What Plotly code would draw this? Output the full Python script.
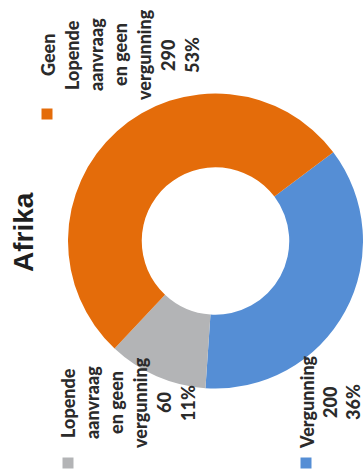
import plotly.graph_objects as go

# Data
categories = ["Vergunning", "Lopende aanvraag en geen vergunning", "Geen Lopende aanvraag en geen vergunning"]
values = [200, 60, 290]
colors = ["#558ED5", "#B3B4B6", "#E46C0A"]
# how each category name is broken over lines in its data label
wrapped_names = [
    ["Vergunning"],
    ["Lopende", "aanvraag", "en geen", "vergunning"],
    ["Geen", "Lopende", "aanvraag", "en geen", "vergunning"],
]
title_text = "Afrika"

W, H = 363, 472
total = sum(values)


def px(x):
    return x / W


def py(y):
    return 1 - y / H


fig = go.Figure(
    go.Pie(
        labels=categories,
        values=values,
        marker=dict(colors=colors, line=dict(width=0)),
        hole=0.5,
        sort=False,
        direction="clockwise",
        rotation=53,
        textinfo="none",
        hoverinfo="label+value+percent",
        showlegend=False,
        domain=dict(x=[68 / W, 1], y=[py(389), py(93)]),
    )
)

# Data-label layout (rotated text): first column x, column gap, centre y, legend-key position
label_layout = [
    dict(x0=307, gap=23, yc=402, key=(306, 463)),
    dict(x0=68, gap=24, yc=403, key=(68, 463)),
    dict(x0=48, gap=24, yc=55, key=(47, 114)),
]

annotations = []
shapes = []
for name_lines, v, col, lay in zip(wrapped_names, values, colors, label_layout):
    pct = round(v / total * 100)
    lines = name_lines + [str(v), f"{pct}%"]
    for i, line in enumerate(lines):
        annotations.append(dict(
            x=px(lay["x0"] + i * lay["gap"]), y=py(lay["yc"]),
            xref="paper", yref="paper", xanchor="center", yanchor="middle",
            text=line, textangle=-90, showarrow=False,
            font=dict(family="Lato", size=18, color="#2b2b2b", weight=900),
        ))
    kx, ky = lay["key"]
    s = 5.5
    shapes.append(dict(
        type="rect", xref="paper", yref="paper",
        x0=px(kx - s), x1=px(kx + s), y0=py(ky + s), y1=py(ky - s),
        fillcolor=col, line=dict(width=0),
    ))

annotations.append(dict(
    x=px(23), y=py(232), xref="paper", yref="paper",
    xanchor="center", yanchor="middle",
    text=title_text, textangle=-90, showarrow=False,
    font=dict(family="Liberation Sans", size=28, color="#1f1f1f", weight="bold"),
))

fig.update_layout(
    width=W, height=H,
    margin=dict(l=0, r=0, t=0, b=0),
    paper_bgcolor="white", plot_bgcolor="white",
    annotations=annotations, shapes=shapes,
)

fig.write_html("out.html")
